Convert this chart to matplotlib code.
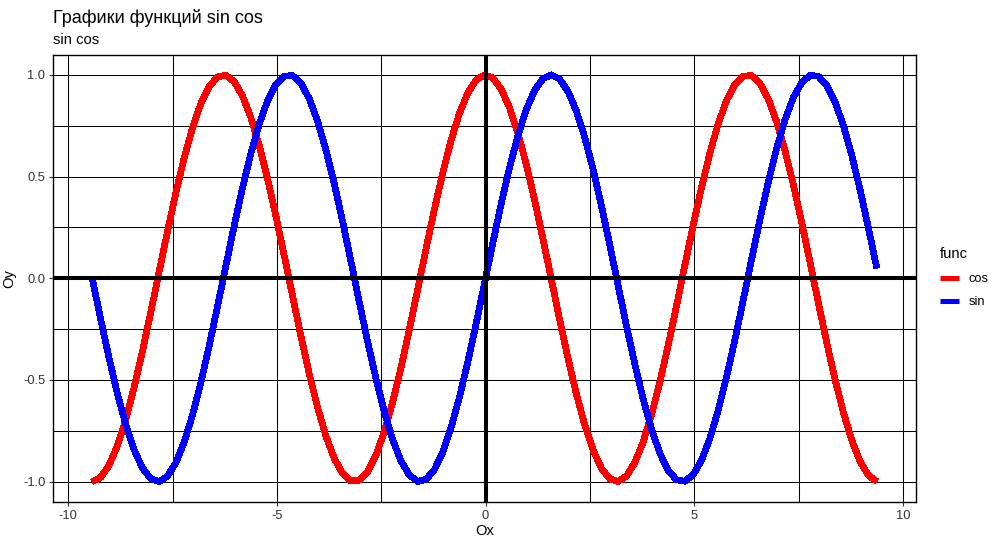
import matplotlib
matplotlib.use("Agg")
import matplotlib.pyplot as plt
from matplotlib.lines import Line2D

plt.rcParams['font.family'] = ['Liberation Sans', 'DejaVu Sans']

# значения (шаг 0.2 по x)
x = [-9.425, -9.225, -9.025, -8.825, -8.625, -8.425, -8.225, -8.025, -7.825, -7.625,
     -7.425, -7.225, -7.025, -6.825, -6.625, -6.425, -6.225, -6.025, -5.825, -5.625,
     -5.425, -5.225, -5.025, -4.825, -4.625, -4.425, -4.225, -4.025, -3.825, -3.625,
     -3.425, -3.225, -3.025, -2.825, -2.625, -2.425, -2.225, -2.025, -1.825, -1.625,
     -1.425, -1.225, -1.025, -0.825, -0.625, -0.425, -0.225, -0.025, 0.175, 0.375,
     0.575, 0.775, 0.975, 1.175, 1.375, 1.575, 1.775, 1.975, 2.175, 2.375,
     2.575, 2.775, 2.975, 3.175, 3.375, 3.575, 3.775, 3.975, 4.175, 4.375,
     4.575, 4.775, 4.975, 5.175, 5.375, 5.575, 5.775, 5.975, 6.175, 6.375,
     6.575, 6.775, 6.975, 7.175, 7.375, 7.575, 7.775, 7.975, 8.175, 8.375,
     8.575, 8.775, 8.975, 9.175, 9.375]

cos_y = [-1.000, -0.980, -0.921, -0.825, -0.697, -0.540, -0.362, -0.170, 0.029, 0.227,
         0.416, 0.589, 0.737, 0.857, 0.942, 0.990, 0.998, 0.967, 0.897, 0.791,
         0.654, 0.490, 0.307, 0.112, -0.087, -0.284, -0.469, -0.635, -0.776, -0.886,
         -0.960, -0.997, -0.993, -0.950, -0.869, -0.754, -0.608, -0.439, -0.251, -0.054,
         0.146, 0.339, 0.519, 0.679, 0.811, 0.911, 0.975, 1.000, 0.985, 0.930,
         0.839, 0.714, 0.561, 0.385, 0.194, -0.004, -0.203, -0.393, -0.568, -0.720,
         -0.844, -0.934, -0.986, -0.999, -0.973, -0.907, -0.806, -0.672, -0.512, -0.331,
         -0.137, 0.063, 0.260, 0.446, 0.615, 0.760, 0.874, 0.953, 0.994, 0.996,
         0.958, 0.881, 0.770, 0.628, 0.461, 0.275, 0.079, -0.121, -0.316, -0.498,
         -0.660, -0.796, -0.901, -0.969, -0.999]

sin_y = [0.000, -0.199, -0.389, -0.565, -0.717, -0.841, -0.932, -0.985, -1.000, -0.974,
         -0.909, -0.808, -0.675, -0.516, -0.335, -0.141, 0.058, 0.256, 0.443, 0.612,
         0.757, 0.872, 0.952, 0.994, 0.996, 0.959, 0.883, 0.773, 0.631, 0.465,
         0.279, 0.083, -0.117, -0.312, -0.494, -0.657, -0.794, -0.899, -0.968, -0.999,
         -0.989, -0.941, -0.855, -0.734, -0.585, -0.412, -0.223, -0.025, 0.174, 0.366,
         0.544, 0.700, 0.828, 0.923, 0.981, 1.000, 0.979, 0.919, 0.823, 0.694,
         0.537, 0.358, 0.166, -0.034, -0.232, -0.420, -0.592, -0.740, -0.859, -0.944,
         -0.991, -0.998, -0.966, -0.895, -0.788, -0.650, -0.486, -0.303, -0.108, 0.092,
         0.288, 0.472, 0.638, 0.778, 0.888, 0.961, 0.997, 0.993, 0.949, 0.867,
         0.751, 0.605, 0.435, 0.247, 0.050]

funcs = ["cos", "sin"]
colores = {"cos": "#FF0000", "sin": "#0000FF"}

xticks = [-10, -5, 0, 5, 10]
xticks_minor = [-7.5, -2.5, 2.5, 7.5]
yticks = [-1.0, -0.5, 0.0, 0.5, 1.0]
yticks_minor = [-0.75, -0.25, 0.25, 0.75]

fig = plt.figure(figsize=(10.03, 5.47), dpi=100)
ax = fig.add_axes([53/1003, 1 - 502/547, 863/1003, 447.5/547])

ax.plot(x, cos_y, color=colores["cos"], lw=4.1, antialiased=False, zorder=2, solid_capstyle="butt")
ax.plot(x, sin_y, color=colores["sin"], lw=4.1, antialiased=False, zorder=2, solid_capstyle="butt")

ax.axhline(0, color="black", lw=2.9, zorder=3)
ax.axvline(0, color="black", lw=2.9, zorder=3)

xr = x[-1] - x[0]
ax.set_xlim(x[0] - 0.05*xr, x[-1] + 0.05*xr)
ax.set_ylim(-1.1, 1.1)

ax.set_xticks(xticks)
ax.set_xticklabels(["-10", "-5", "0", "5", "10"])
ax.set_xticks(xticks_minor, minor=True)
ax.set_yticks(yticks)
ax.set_yticklabels(["-1.0", "-0.5", "0.0", "0.5", "1.0"])
ax.set_yticks(yticks_minor, minor=True)

ax.set_axisbelow(True)
ax.grid(True, which="both", color="black", lw=0.75)
ax.tick_params(which="major", direction="out", length=2.9, width=0.8, color="#333333",
               labelsize=9.3, labelcolor="#333333", pad=2.6)
ax.tick_params(which="minor", length=0)
for sp in ax.spines.values():
    sp.set_color("black")
    sp.set_linewidth(1.0)

ax.set_xlabel("Ox", fontsize=10.6, labelpad=2)
ax.set_ylabel("Oy", fontsize=10.6, labelpad=5)

fig.text(53/1003, 1 - 22.7/547, "Графики функций sin cos", fontsize=12.95, va="baseline", ha="left")
fig.text(53/1003, 1 - 44.3/547, "sin cos", fontsize=10.6, va="baseline", ha="left")

handles = [Line2D([], [], color=colores[f], lw=3.6, solid_capstyle="butt") for f in funcs]
leg = fig.legend(handles, funcs, title="func", loc="upper left",
                 bbox_to_anchor=(936/1003, 1 - 243/547), frameon=False,
                 fontsize=9.3, title_fontsize=10.6, handlelength=1.45,
                 handletextpad=0.75, labelspacing=0.85, borderaxespad=0, borderpad=0.3)
leg._legend_box.align = "left"
leg._legend_box.sep = 9

fig.savefig("out.png", dpi=100)
